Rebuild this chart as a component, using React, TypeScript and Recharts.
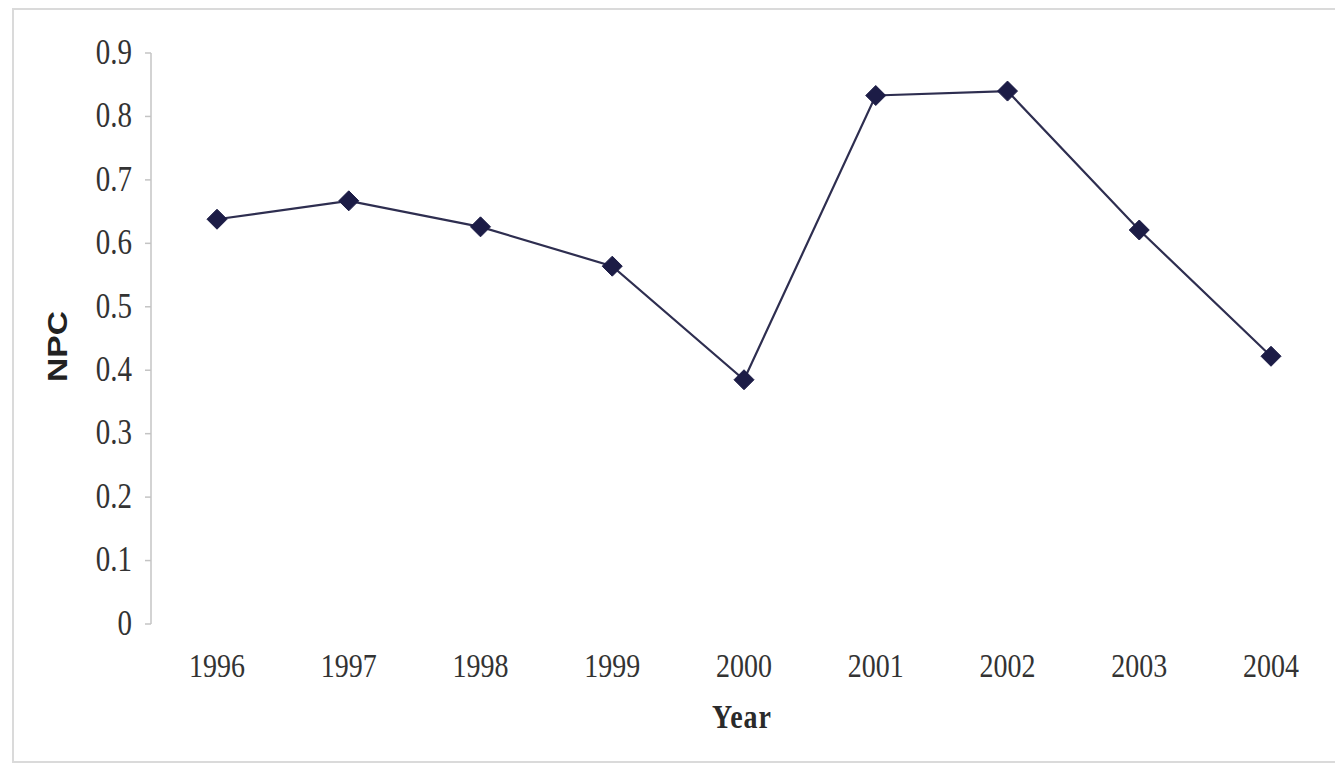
import React from "react";
import { LineChart, Line, XAxis, YAxis } from "recharts";

const years = ["1996", "1997", "1998", "1999", "2000", "2001", "2002", "2003", "2004"];
const npcValues = [0.638, 0.667, 0.626, 0.564, 0.385, 0.833, 0.84, 0.621, 0.422];
const npcTicks = [0, 0.1, 0.2, 0.3, 0.4, 0.5, 0.6, 0.7, 0.8, 0.9];
// category boundaries, used only for the small tick marks between years
const yearEdges = [0, 1, 2, 3, 4, 5, 6, 7, 8, 9];

const rows = years.map((year, i) => ({ year, npc: npcValues[i], slot: i + 0.5 }));

const ink = "#333";
const axisGrey = "#c4c4c4";
const navy = "#1c1c46";
const serif = "'Liberation Serif', 'Times New Roman', serif";
const sans = "'Liberation Sans', Arial, sans-serif";

// scanned charts look slightly tall, so text gets a small vertical stretch
const stretch = 1.2;

const YearTick = ({ x, y, payload }: any) => (
  <g transform={`translate(${x},${y}) scale(1,${stretch})`}>
    <text x={0} y={0} textAnchor="middle" fontFamily={serif} fontSize={28} fill={ink}>
      {payload.value}
    </text>
  </g>
);

const NpcTick = ({ x, y, payload }: any) => (
  <g transform={`translate(${x},${y}) scale(1,${stretch})`}>
    <text x={0} y={9} textAnchor="end" fontFamily={serif} fontSize={29} fill={ink}>
      {payload.value}
    </text>
  </g>
);

const Diamond = ({ cx, cy, index }: any) => {
  if (cx == null || cy == null) return null;
  const r = 10;
  return (
    <path
      key={`d-${index}`}
      d={`M${cx},${cy - r} L${cx + r},${cy} L${cx},${cy + r} L${cx - r},${cy} Z`}
      fill={navy}
      stroke={navy}
      strokeWidth={1}
    />
  );
};

const NpcTitle = ({ viewBox }: any) => {
  const cx = viewBox.x + 49;
  const cy = viewBox.y + viewBox.height / 2 + 8;
  return (
    <g transform={`translate(${cx},${cy}) rotate(-90) scale(${stretch},1)`}>
      <text x={0} y={0} textAnchor="middle" dominantBaseline="central" fontFamily={sans} fontWeight="bold" fontSize={28} fill="#222">
        NPC
      </text>
    </g>
  );
};

const YearTitle = ({ viewBox }: any) => {
  const cx = viewBox.x + viewBox.width / 2 - 2;
  return (
    <g transform={`translate(${cx},${viewBox.y + 104}) scale(1,${stretch})`}>
      <text x={0} y={0} textAnchor="middle" fontFamily={serif} fontWeight="bold" fontSize={28} letterSpacing={1} fill="#2a2a2a">
        Year
      </text>
    </g>
  );
};

export default function App() {
  return (
    <div style={{ position: "relative", width: 1335, height: 758, overflow: "hidden" }}>
      <div
        style={{
          position: "absolute",
          left: 4,
          top: 0,
          width: 1340,
          height: 751,
          borderTop: "2px solid #dadada",
          borderLeft: "2px solid #dadada",
          borderBottom: "2px solid #dadada",
        }}
      />
      <LineChart width={1335} height={758} data={rows} margin={{ top: 45, right: 6, bottom: 0, left: 0 }}>
        <XAxis
          xAxisId="edges"
          type="number"
          dataKey="slot"
          domain={[0, years.length]}
          ticks={yearEdges}
          allowDataOverflow
          tick={false}
          tickSize={7}
          tickLine={{ stroke: axisGrey, strokeWidth: 1.5 }}
          axisLine={{ stroke: axisGrey, strokeWidth: 1.5 }}
          height={0}
        />
        <XAxis
          xAxisId="years"
          dataKey="year"
          padding={{ left: 66, right: 66 }}
          interval={0}
          tickLine={false}
          axisLine={false}
          tickSize={0}
          tickMargin={53}
          tick={<YearTick />}
          height={142}
          label={<YearTitle />}
        />
        <YAxis
          domain={[0, 0.9]}
          ticks={npcTicks}
          width={143}
          tickSize={6}
          tickMargin={13}
          tick={<NpcTick />}
          tickLine={{ stroke: axisGrey, strokeWidth: 1.5 }}
          axisLine={{ stroke: axisGrey, strokeWidth: 1.5 }}
          label={<NpcTitle />}
        />
        <Line
          xAxisId="years"
          type="linear"
          dataKey="npc"
          stroke="#2e2e50"
          strokeWidth={2.2}
          dot={<Diamond />}
          activeDot={false}
          isAnimationActive={false}
        />
      </LineChart>
    </div>
  );
}
